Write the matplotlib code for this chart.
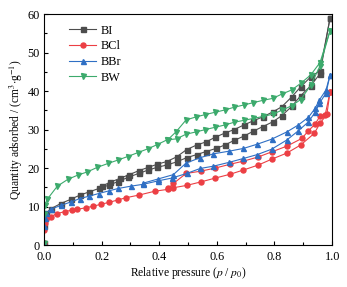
import matplotlib
matplotlib.use("Agg")
import matplotlib.pyplot as plt
from matplotlib.ticker import MultipleLocator

plt.rcParams["font.family"] = ["Liberation Serif", "DejaVu Serif"]
plt.rcParams["mathtext.fontset"] = "stix"

# BI (gray)
bi_ads_x = [0.00005, 0.001, 0.003, 0.008, 0.025, 0.058, 0.093, 0.125, 0.156, 0.19, 0.226, 0.257,
            0.292, 0.328, 0.362, 0.393, 0.426, 0.46, 0.495, 0.53, 0.5625, 0.597, 0.628, 0.66,
            0.694, 0.727, 0.76, 0.794, 0.825, 0.86, 0.891, 0.926, 0.958, 0.993]
bi_ads_y = [0.5, 5.0, 7.0, 8.3, 9.5, 10.8, 11.9, 13.0, 13.8, 14.7, 15.6, 16.5,
            17.6, 18.6, 19.5, 20.2, 20.8, 21.6, 22.7, 23.5, 24.3, 25.1, 26.0, 27.2,
            28.3, 29.6, 30.8, 32.0, 33.6, 36.0, 38.8, 41.4, 44.5, 59.0]
bi_des_x = [0.993, 0.958, 0.926, 0.891, 0.86, 0.825, 0.794, 0.76, 0.727, 0.694, 0.66, 0.628,
            0.594, 0.5625, 0.53, 0.495, 0.46, 0.426, 0.393, 0.362, 0.328, 0.296, 0.262, 0.229, 0.2]
bi_des_y = [59.0, 45.3, 43.7, 41.1, 38.5, 35.9, 34.6, 33.3, 32.3, 31.2, 30.0, 29.1,
            28.0, 26.8, 26.0, 24.8, 22.9, 21.7, 21.0, 20.2, 19.3, 18.3, 17.3, 16.3, 15.3]

# BCl (red)
bcl_ads_x = [0.00005, 0.001, 0.003, 0.008, 0.023, 0.046, 0.072, 0.098, 0.116, 0.145, 0.171, 0.197,
             0.226, 0.255, 0.284, 0.33, 0.385, 0.432, 0.449, 0.495, 0.544, 0.594, 0.646, 0.692,
             0.744, 0.79, 0.843, 0.891, 0.938, 0.958, 0.982, 0.993]
bcl_ads_y = [0.5, 4.0, 5.8, 6.8, 7.4, 8.2, 8.7, 9.1, 9.3, 9.7, 10.1, 10.6,
             11.1, 11.7, 12.3, 13.0, 14.0, 14.5, 14.9, 15.5, 16.4, 17.4, 18.4, 19.5,
             20.8, 22.3, 23.9, 26.0, 29.0, 31.6, 34.0, 39.8]
bcl_des_x = [0.993, 0.976, 0.958, 0.941, 0.918, 0.895, 0.843, 0.79, 0.744, 0.692, 0.646, 0.594,
             0.544, 0.493, 0.449, 0.432]
bcl_des_y = [39.8, 33.8, 33.5, 31.4, 29.7, 27.7, 25.7, 24.2, 22.9, 21.8, 21.0, 20.0,
             19.2, 18.6, 16.0, 14.8]

# BBr (blue)
bbr_ads_x = [0.00005, 0.001, 0.003, 0.008, 0.023, 0.058, 0.093, 0.125, 0.156, 0.19, 0.226, 0.257,
             0.301, 0.345, 0.397, 0.443, 0.495, 0.542, 0.588, 0.643, 0.692, 0.74, 0.79, 0.843,
             0.883, 0.918, 0.941, 0.956, 0.979, 0.993]
bbr_ads_y = [0.5, 5.0, 7.0, 8.3, 9.3, 10.3, 11.2, 12.1, 12.7, 13.4, 14.1, 14.7,
             15.3, 15.8, 16.7, 17.4, 18.6, 19.9, 20.5, 21.5, 22.5, 23.5, 24.9, 27.3,
             29.7, 32.0, 34.5, 36.8, 39.5, 44.2]
bbr_des_x = [0.993, 0.979, 0.956, 0.941, 0.918, 0.883, 0.843, 0.79, 0.74, 0.692, 0.643, 0.588,
             0.542, 0.493, 0.449, 0.397, 0.345]
bbr_des_y = [44.2, 40.3, 37.7, 35.5, 33.2, 31.2, 29.4, 27.5, 26.2, 25.1, 24.4, 23.7,
             22.7, 21.3, 18.3, 17.2, 16.1]

# BW (green)
bw_ads_x = [0.00005, 0.001, 0.003, 0.011, 0.046, 0.083, 0.118, 0.15, 0.185, 0.222, 0.257, 0.29,
            0.325, 0.36, 0.393, 0.426, 0.46, 0.493, 0.528, 0.56, 0.594, 0.628, 0.66, 0.694,
            0.727, 0.76, 0.794, 0.825, 0.86, 0.891, 0.926, 0.958, 0.993]
bw_ads_y = [0.5, 8.0, 10.5, 11.9, 15.3, 17.1, 18.2, 19.0, 20.2, 21.2, 22.1, 23.0,
            24.0, 25.0, 26.1, 27.3, 27.6, 28.8, 29.4, 30.0, 30.6, 31.2, 31.9, 32.4,
            32.9, 33.4, 34.0, 35.0, 36.2, 37.8, 41.5, 46.5, 55.7]
bw_des_x = [0.993, 0.958, 0.926, 0.891, 0.86, 0.825, 0.794, 0.76, 0.727, 0.694, 0.66, 0.628,
            0.594, 0.56, 0.528, 0.493, 0.458, 0.43]
bw_des_y = [55.7, 47.4, 44.2, 42.0, 40.3, 39.2, 38.1, 37.6, 37.0, 36.4, 35.8, 35.1,
            34.5, 33.9, 33.3, 32.5, 29.4, 27.4]

series = [
    ("BI", bi_ads_x, bi_ads_y, bi_des_x, bi_des_y, "#4d4d4d", "s"),
    ("BCl", bcl_ads_x, bcl_ads_y, bcl_des_x, bcl_des_y, "#ec3f44", "o"),
    ("BBr", bbr_ads_x, bbr_ads_y, bbr_des_x, bbr_des_y, "#2f6fc4", "^"),
    ("BW", bw_ads_x, bw_ads_y, bw_des_x, bw_des_y, "#3caa6c", "v"),
]

fig = plt.figure(figsize=(3.47, 2.87), dpi=100)
ax = fig.add_axes([0.127, 0.146, 0.83, 0.805])

for name, ax_x, ax_y, dx, dy, color, marker in series:
    ax.plot(ax_x, ax_y, color=color, marker=marker, ms=3.6, lw=0.8, label=name)
    ax.plot(dx, dy, color=color, marker=marker, ms=3.6, lw=0.8)

ax.set_xlim(0, 1.0)
ax.set_ylim(0, 60)
ax.xaxis.set_major_locator(MultipleLocator(0.2))
ax.xaxis.set_minor_locator(MultipleLocator(0.1))
ax.yaxis.set_major_locator(MultipleLocator(10))
ax.yaxis.set_minor_locator(MultipleLocator(5))
ax.xaxis.set_major_formatter(plt.FuncFormatter(lambda v, p: f"{v:.1f}"))
ax.tick_params(which="both", direction="in", labelsize=8.8, width=0.8)
ax.tick_params(axis="x", pad=4)
ax.tick_params(axis="y", pad=3)
ax.tick_params(which="major", length=3)
ax.tick_params(which="minor", length=2)
for sp in ax.spines.values():
    sp.set_linewidth(0.8)

ax.set_xlabel(r"Relative pressure ($p$ / $p_0$)", fontsize=8.3, labelpad=1.5)
ax.set_ylabel(r"Quantity adsorbed / (cm$^3$$\cdot$g$^{-1}$)", fontsize=8.3, labelpad=2)

ax.legend(loc="upper left", bbox_to_anchor=(0.07, 0.975), frameon=False, fontsize=8.8,
          handlelength=2.2, labelspacing=0.3, borderaxespad=0, handletextpad=0.4)

fig.savefig("out.png", dpi=100)
